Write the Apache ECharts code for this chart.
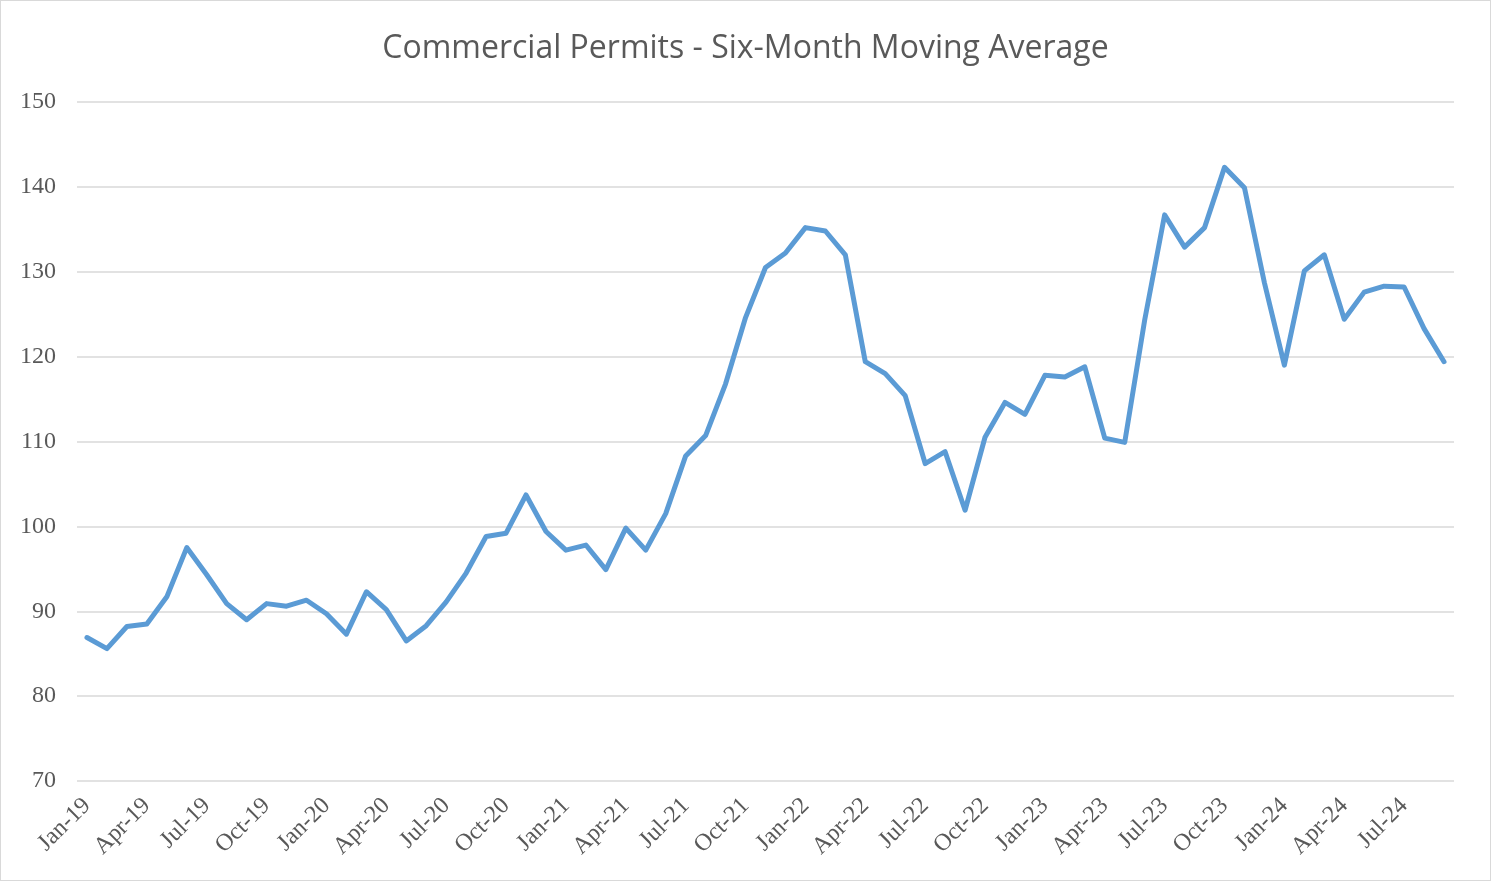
<!DOCTYPE html>
<html>
<head>
<meta charset="utf-8">
<script src="https://cdn.jsdelivr.net/npm/echarts@6/dist/echarts.min.js"></script>
<style>
html,body{margin:0;padding:0;background:#fff;}
#chart{width:1489px;height:879px;border:1px solid #d9d9d9;}
</style>
</head>
<body>
<div id="chart"></div>
<script>
// month labels Jan-19 .. Sep-24
var months = ['Jan','Feb','Mar','Apr','May','Jun','Jul','Aug','Sep','Oct','Nov','Dec'];
var categories = [];
for (var y = 19; y <= 24; y++) {
	for (var m = 0; m < 12; m++) {
		if (y == 24 && m > 8) break;
		categories.push(months[m] + '-' + y);
	}
}
// six-month moving average values
var values2019 = [86.9, 85.6, 88.2, 88.5, 91.7, 97.5, 94.3, 90.9, 89.0, 90.9, 90.6, 91.3];
var values2020 = [89.7, 87.3, 92.3, 90.2, 86.5, 88.3, 91.1, 94.5, 98.8, 99.2, 103.7, 99.4];
var values2021 = [97.2, 97.8, 94.9, 99.8, 97.2, 101.5, 108.3, 110.7, 116.8, 124.6, 130.5, 132.2];
var values2022 = [135.2, 134.8, 132.0, 119.4, 118.0, 115.4, 107.4, 108.8, 101.9, 110.5, 114.6, 113.2];
var values2023 = [117.8, 117.6, 118.8, 110.4, 109.9, 124.3, 136.7, 132.9, 135.2, 142.3, 139.9, 128.7];
var values2024 = [119.0, 130.1, 132.0, 124.4, 127.6, 128.3, 128.2, 123.3, 119.4];
var values = values2019.concat(values2020, values2021, values2022, values2023, values2024);

var myChart = echarts.init(document.getElementById('chart'));
var option = {
	animation: false,
	title: {
		text: 'Commercial Permits - Six-Month Moving Average',
		left: 'center',
		top: 27,
		textStyle: {
			fontFamily: 'Open Sans',
			fontWeight: 'normal',
			fontSize: 32,
			color: '#595959'
		}
	},
	grid: {
		left: 76,
		right: 36,
		top: 101,
		bottom: 99
	},
	xAxis: {
		type: 'category',
		boundaryGap: true,
		data: categories,
		axisLine: { show: false },
		axisTick: { show: false },
		axisLabel: {
			interval: 2,
			rotate: 45,
			margin: 21,
			fontFamily: 'Liberation Serif',
			fontSize: 24,
			color: '#595959'
		}
	},
	yAxis: {
		type: 'value',
		min: 70,
		max: 150,
		interval: 10,
		axisLine: { show: false },
		axisTick: { show: false },
		axisLabel: {
			margin: 21,
			fontFamily: 'Liberation Serif',
			fontSize: 24,
			color: '#595959'
		},
		splitLine: {
			lineStyle: { color: '#d9d9d9', width: 1.5 }
		}
	},
	series: [
		{
			type: 'line',
			data: values,
			symbol: 'none',
			lineStyle: { color: '#5b9bd5', width: 5, join: 'round', cap: 'round' }
		}
	]
};
myChart.setOption(option);
</script>
</body>
</html>
